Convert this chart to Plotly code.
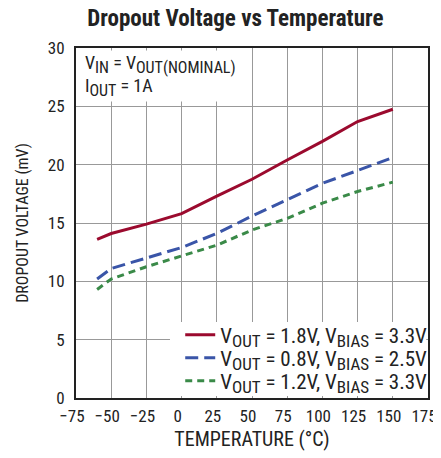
import plotly.graph_objects as go

temps = [-60, -50, -25, 0, 25, 50, 75, 100, 125, 150]
v_18 = [13.6, 14.1, 14.9, 15.8, 17.3, 18.75, 20.4, 22.0, 23.7, 24.75]
v_08 = [10.2, 11.1, 12.0, 12.9, 14.1, 15.6, 17.0, 18.4, 19.5, 20.6]
v_12 = [9.3, 10.2, 11.25, 12.2, 13.1, 14.4, 15.4, 16.7, 17.7, 18.5]

x_ticks = [-75, -50, -25, 0, 25, 50, 75, 100, 125, 150, 175]
x_tick_labels = ["\u221275", "\u221250", "\u221225", "0", "25", "50", "75", "100", "125", "150", "175"]
y_ticks = [0, 5, 10, 15, 20, 25, 30]

FONT = "Liberation Sans Narrow, Roboto Condensed, Arial Narrow, Roboto, sans-serif"


def sub(t, px):
    return '<sub><span style="font-size:%dpx">%s</span></sub>' % (px, t)


LS = 17
fig = go.Figure()
fig.add_trace(go.Scatter(x=temps, y=v_18, mode="lines", line=dict(color="#9b0a2e", width=3), legend="legend",
                         name="V" + sub("OUT", LS) + " = 1.8V, V" + sub("BIAS", LS) + " = 3.3V"))
fig.add_trace(go.Scatter(x=temps, y=v_08, mode="lines", line=dict(color="#3a55a8", width=3, dash="13px,6px"),
                         legend="legend2",
                         name="V" + sub("OUT", LS) + " = 0.8V, V" + sub("BIAS", LS) + " = 2.5V"))
fig.add_trace(go.Scatter(x=temps, y=v_12, mode="lines", line=dict(color="#3a8a48", width=3, dash="7px,5px"),
                         legend="legend3",
                         name="V" + sub("OUT", LS) + " = 1.2V, V" + sub("BIAS", LS) + " = 3.3V"))

leg = dict(x=1.012, xanchor="right", yanchor="middle", bgcolor="rgba(0,0,0,0)", borderwidth=0,
           font=dict(size=21), itemwidth=30)

fig.update_layout(
    width=433, height=450,
    margin=dict(l=68, r=13, t=40, b=60, autoexpand=False),
    paper_bgcolor="white", plot_bgcolor="white",
    font=dict(family=FONT, size=17, color="#222"),
    title=dict(text="<b>Dropout Voltage vs Temperature</b>", x=0.525, xanchor="center",
               yref="container", y=1, yanchor="top", pad=dict(t=2),
               font=dict(family=FONT, size=23, color="#222")),
    xaxis=dict(range=[-75, 175], tickvals=x_ticks, ticktext=x_tick_labels, showgrid=True,
               gridcolor="#999", gridwidth=1, zeroline=False, showline=True, linecolor="#222", linewidth=2,
               mirror=True, ticks="", automargin=False, ticklabelstandoff=2, ticklabelshift=-4,
               ticklabeloverflow="allow",
               title=dict(text="TEMPERATURE (°C)", standoff=7, font=dict(size=20)),
               tickfont=dict(size=17)),
    yaxis=dict(range=[0, 30], tickvals=y_ticks, showgrid=True, gridcolor="#999", gridwidth=1,
               zeroline=False, showline=True, linecolor="#222", linewidth=2, mirror=True, ticks="",
               automargin=False, ticklabelstandoff=6,
               title=dict(text="DROPOUT VOLTAGE (mV)", standoff=15, font=dict(size=16)), tickfont=dict(size=17)),
    legend=dict(leg, y=0.18),
    legend2=dict(leg, y=0.114),
    legend3=dict(leg, y=0.0486),
    showlegend=True,
)

# white backing box behind the legend entries
fig.add_shape(type="rect", xref="paper", yref="paper", x0=0.267, x1=0.995, y0=0.006, y1=0.217,
              fillcolor="white", line=dict(width=0), layer="above")

fig.add_annotation(
    x=0.02, y=0.995, xref="paper", yref="paper", xanchor="left", yanchor="top", align="left",
    text="V" + sub("IN", 16) + " = V" + sub("OUT(NOMINAL)", 16) + "<br>I" + sub("OUT", 16) + " = 1A",
    showarrow=False, bgcolor="white", font=dict(size=18),
)

fig.write_html("out.html")
